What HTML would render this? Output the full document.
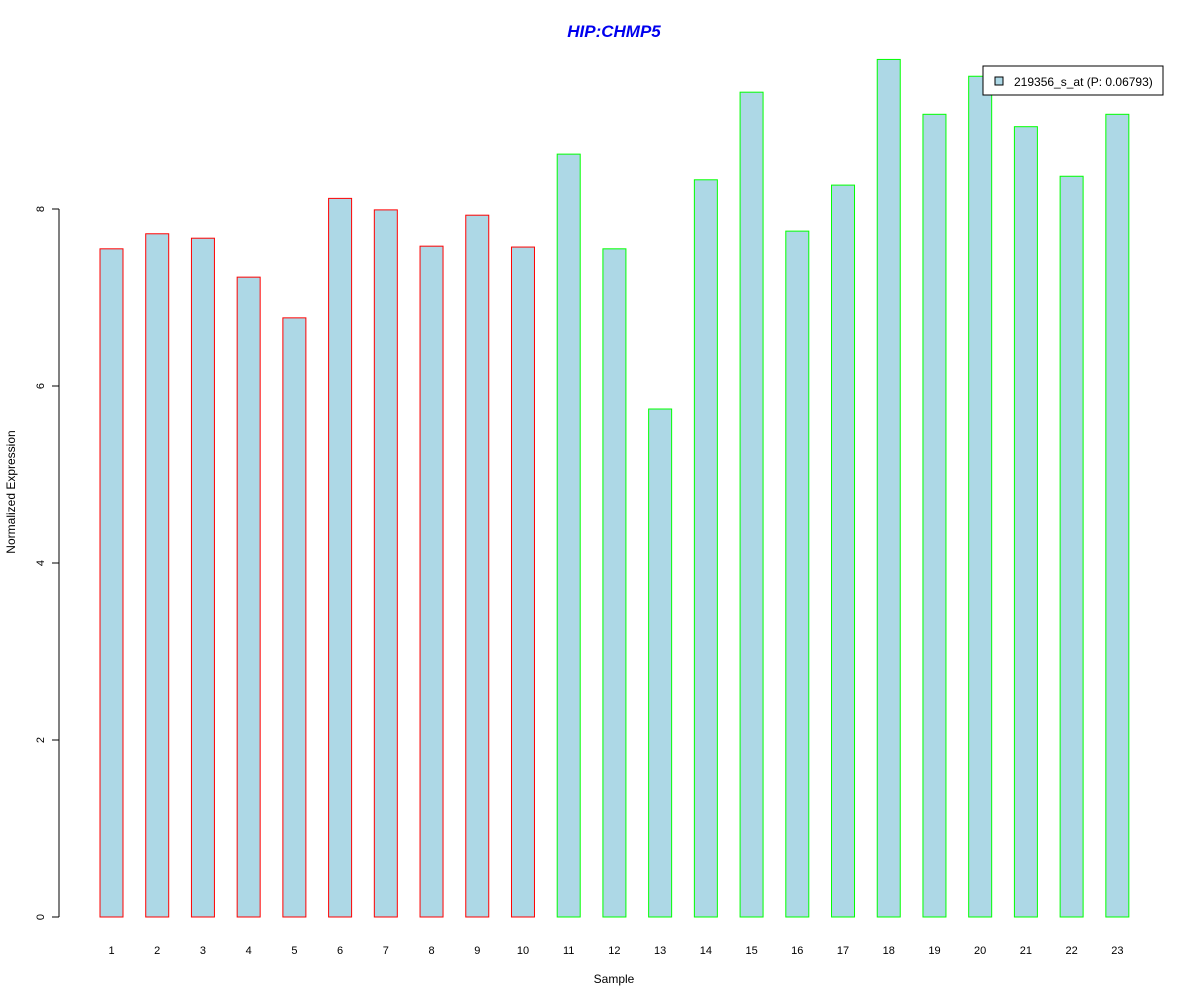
<!DOCTYPE html>
<html><head><meta charset="utf-8"><style>body{margin:0;background:#fff}svg{display:block;font-family:"Liberation Sans",Arial,sans-serif}</style></head>
<body>
<svg id="chart" width="1200" height="1000" viewBox="0 0 1200 1000">
<rect width="1200" height="1000" fill="#fff"/>
<text x="614" y="37" text-anchor="middle" font-size="17" font-weight="bold" font-style="italic" fill="#0000ee">HIP:CHMP5</text>
<g id="yaxis"></g>
<g id="bars"></g>
<g id="xlabels"></g>
<text x="614" y="983" text-anchor="middle" font-size="12">Sample</text>
<text transform="translate(15,492) rotate(-90)" text-anchor="middle" font-size="12">Normalized Expression</text>
<g>
<rect x="983" y="66" width="180" height="29" fill="#fff" stroke="#000" stroke-width="1"/>
<rect x="995" y="77" width="8" height="8" fill="#add8e6" stroke="#000"/>
<text x="1014" y="86" font-size="12">219356_s_at (P: 0.06793)</text>
</g>
</svg>
<script>
const categories = ["1","2","3","4","5","6","7","8","9","10","11","12","13","14","15","16","17","18","19","20","21","22","23"];
const values = [7.55,7.72,7.67,7.23,6.77,8.12,7.99,7.58,7.93,7.57,8.62,7.55,5.74,8.33,9.32,7.75,8.27,9.69,9.07,9.50,8.93,8.37,9.07];
const groups = ["a","a","a","a","a","a","a","a","a","a","b","b","b","b","b","b","b","b","b","b","b","b","b"];
const yTicks = [0,2,4,6,8];
const NS="http://www.w3.org/2000/svg";
const y = v => 917 - v*88.5;
const x = i => 111.5 + i*45.72;
const bw = 23;
const yg=document.getElementById('yaxis');
function mk(tag,attrs,parent){const e=document.createElementNS(NS,tag);for(const k in attrs)e.setAttribute(k,attrs[k]);parent.appendChild(e);return e;}
mk('line',{x1:59,x2:59,y1:y(0),y2:y(yTicks[yTicks.length-1]),stroke:'#000'},yg);
yTicks.forEach(t=>{
  const l=mk('line',{x1:52,x2:59,y1:y(t),y2:y(t),stroke:'#000'},yg);
  
  
  const tx=mk('text',{transform:`translate(44,${y(t)}) rotate(-90)`,'text-anchor':'middle','font-size':11},yg);
  
  
  tx.textContent=t;
});
const bg=document.getElementById('bars'), xg=document.getElementById('xlabels');
values.forEach((v,i)=>{
  const r=mk('rect',{x:x(i)-bw/2,y:y(v),width:bw,height:y(0)-y(v),fill:'#add8e6',stroke:groups[i]==='a'?'#ff0000':'#00ff00','stroke-width':1},bg);
  
  
  const t=mk('text',{x:x(i),y:954,'text-anchor':'middle','font-size':11},xg);
  
  
  t.textContent=categories[i];
});
</script>
</body></html>
